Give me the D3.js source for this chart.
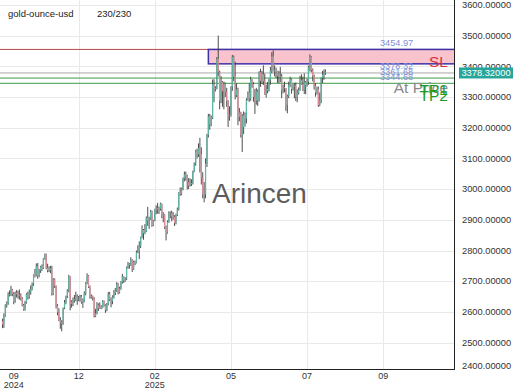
<!DOCTYPE html>
<html>
<head>
<meta charset="utf-8">
<script src="https://cdn.jsdelivr.net/npm/d3@7"></script>
<style>
  body { margin: 0; background: #fff; }
  svg { display: block; font-family: Arial, "Liberation Sans", sans-serif; }
</style>
</head>
<body>
<div id="chart"></div>
<script>
// daily closes, gold-ounce-usd, 230 bars (Sep 2024 .. Aug 2025)
const closes = [
  2559, 2587, 2622, 2628, 2657, 2657, 2672, 2658, 2634, 2662,
  2658, 2656, 2653, 2644, 2622, 2608, 2631, 2657, 2649, 2663,
  2674, 2692, 2721, 2720, 2749, 2717, 2735, 2747, 2743, 2773,
  2788, 2744, 2736, 2736, 2742, 2659, 2706, 2684, 2619, 2598,
  2573, 2566, 2562, 2613, 2631, 2651, 2670, 2715, 2626, 2633,
  2637, 2641, 2650, 2640, 2643, 2650, 2632, 2633, 2660, 2694,
  2718, 2681, 2648, 2652, 2646, 2586, 2595, 2622, 2612, 2617,
  2613, 2634, 2621, 2606, 2624, 2658, 2640, 2635, 2649, 2662,
  2670, 2690, 2663, 2677, 2697, 2715, 2703, 2708, 2745, 2755,
  2754, 2770, 2740, 2763, 2760, 2794, 2798, 2815, 2843, 2867,
  2856, 2861, 2907, 2898, 2904, 2928, 2883, 2898, 2935, 2933,
  2939, 2936, 2952, 2914, 2916, 2875, 2858, 2893, 2918, 2920,
  2911, 2910, 2889, 2916, 2934, 2988, 2984, 3001, 3034, 3048,
  3044, 3022, 3011, 3020, 3019, 3057, 3085, 3123, 3113, 3134,
  3114, 3037, 2982, 2983, 3083, 3176, 3237, 3211, 3231, 3343,
  3328, 3327, 3424, 3381, 3288, 3349, 3319, 3343, 3317, 3288,
  3239, 3241, 3333, 3431, 3366, 3306, 3325, 3235, 3250, 3177,
  3240, 3202, 3230, 3290, 3314, 3295, 3357, 3342, 3300, 3288,
  3318, 3289, 3381, 3353, 3374, 3352, 3310, 3326, 3322, 3355,
  3386, 3432, 3384, 3388, 3387, 3369, 3368, 3368, 3323, 3332,
  3328, 3274, 3303, 3338, 3357, 3326, 3337, 3336, 3301, 3313,
  3324, 3355, 3343, 3324, 3348, 3338, 3350, 3397, 3431, 3388,
  3368, 3337, 3314, 3326, 3274, 3289, 3363, 3373, 3380, 3378.32
];
const highs = [
  2578, 2595, 2625, 2634, 2664, 2670, 2685, 2675, 2665, 2666,
  2671, 2669, 2673, 2660, 2648, 2626, 2636, 2661, 2666, 2673,
  2686, 2696, 2722, 2740, 2758, 2759, 2740, 2750, 2755, 2775,
  2790, 2790, 2757, 2748, 2750, 2750, 2710, 2709, 2686, 2625,
  2612, 2583, 2573, 2614, 2639, 2653, 2674, 2721, 2716, 2638,
  2647, 2655, 2666, 2657, 2652, 2656, 2655, 2644, 2667, 2697,
  2726, 2720, 2686, 2657, 2653, 2648, 2610, 2632, 2628, 2631,
  2622, 2638, 2637, 2625, 2629, 2665, 2665, 2647, 2654, 2671,
  2678, 2697, 2694, 2682, 2700, 2724, 2716, 2713, 2748, 2763,
  2759, 2778, 2772, 2767, 2767, 2800, 2817, 2830, 2845, 2882,
  2870, 2886, 2911, 2942, 2910, 2932, 2930, 2900, 2936, 2947,
  2955, 2943, 2956, 2953, 2925, 2918, 2881, 2898, 2928, 2927,
  2930, 2925, 2915, 2920, 2940, 2990, 3005, 3005, 3038, 3057,
  3057, 3047, 3036, 3035, 3032, 3060, 3087, 3128, 3132, 3149,
  3167, 3136, 3055, 3023, 3100, 3180, 3245, 3245, 3240, 3357,
  3358, 3335, 3430, 3500, 3386, 3368, 3352, 3350, 3347, 3330,
  3290, 3270, 3335, 3437, 3435, 3415, 3345, 3330, 3264, 3252,
  3245, 3253, 3250, 3296, 3318, 3345, 3366, 3358, 3348, 3326,
  3330, 3325, 3384, 3392, 3385, 3403, 3376, 3340, 3349, 3360,
  3398, 3446, 3452, 3403, 3396, 3376, 3385, 3398, 3375, 3340,
  3350, 3329, 3308, 3350, 3366, 3360, 3342, 3345, 3347, 3325,
  3331, 3369, 3374, 3366, 3377, 3352, 3360, 3402, 3439, 3433,
  3393, 3373, 3345, 3334, 3334, 3315, 3364, 3385, 3390, 3390
];
const lows = [
  2547, 2548, 2584, 2614, 2623, 2650, 2652, 2651, 2625, 2630,
  2647, 2643, 2640, 2637, 2618, 2604, 2604, 2627, 2640, 2643,
  2656, 2670, 2685, 2712, 2716, 2708, 2713, 2727, 2733, 2740,
  2770, 2739, 2729, 2730, 2726, 2653, 2655, 2678, 2611, 2589,
  2570, 2545, 2537, 2558, 2609, 2625, 2645, 2664, 2605, 2614,
  2619, 2630, 2635, 2623, 2635, 2633, 2627, 2613, 2631, 2654,
  2690, 2678, 2643, 2643, 2637, 2582, 2583, 2592, 2603, 2610,
  2609, 2612, 2617, 2597, 2602, 2621, 2635, 2615, 2625, 2643,
  2655, 2665, 2657, 2660, 2672, 2692, 2694, 2698, 2704, 2740,
  2741, 2750, 2730, 2737, 2752, 2758, 2791, 2772, 2808, 2840,
  2835, 2853, 2860, 2880, 2870, 2900, 2877, 2880, 2895, 2918,
  2920, 2919, 2930, 2905, 2892, 2870, 2833, 2855, 2890, 2905,
  2895, 2900, 2880, 2885, 2912, 2930, 2978, 2980, 2996, 3025,
  3028, 2999, 3000, 3008, 3010, 3015, 3055, 3076, 3100, 3105,
  3054, 3015, 2970, 2957, 2970, 3072, 3168, 3193, 3205, 3228,
  3283, 3318, 3325, 3367, 3260, 3280, 3268, 3260, 3300, 3268,
  3202, 3223, 3236, 3320, 3351, 3292, 3300, 3208, 3221, 3168,
  3121, 3179, 3207, 3214, 3288, 3284, 3288, 3330, 3285, 3245,
  3275, 3271, 3285, 3333, 3343, 3339, 3307, 3298, 3312, 3318,
  3340, 3377, 3383, 3367, 3362, 3346, 3345, 3348, 3296, 3312,
  3315, 3255, 3247, 3296, 3332, 3311, 3321, 3296, 3287, 3283,
  3308, 3320, 3340, 3320, 3310, 3309, 3334, 3340, 3383, 3381,
  3351, 3324, 3301, 3308, 3268, 3270, 3280, 3345, 3356, 3372
];
const firstOpen = 2570;
// each bar opens at the previous bar's close
const opens = [firstOpen, ...closes.slice(0, -1)];

const priceTicks = [2400, 2500, 2600, 2700, 2800, 2900, 3000, 3100, 3200, 3300, 3400, 3500, 3600];
const timeTicks = [8, 54, 108, 162, 216, 270];          // bar index of each tick
const timeLabels = ["09", "12", "02", "05", "07", "09"];
const yearLabels = ["2024", "", "2025", "", "", ""];
const gridTicks = [54, 108, 162, 216, 270];

const lastPrice = 3378.32;
const slPrice = 3454.97;
const zoneLow = 3408;
const zoneStart = 146;
const tp1 = 3361.68;
const tp2 = 3344.68;

const W = 520, H = 390;
const plotW = 454, plotH = 369;

const svg = d3.select("#chart").append("svg").attr("width", W).attr("height", H);

const x = d3.scaleLinear().domain([-1.77, 320.2]).range([0, plotW]);
const y = d3.scaleLinear().domain([2414, 3616]).range([plotH, 0]);

const plot = svg.append("g");
plot.append("defs").append("clipPath").attr("id", "clip")
  .append("rect").attr("width", plotW).attr("height", plotH);

// grid
plot.selectAll(".hg").data(priceTicks.filter(v => y(v) < plotH)).enter().append("line")
  .attr("x1", 0).attr("x2", plotW)
  .attr("y1", d => Math.round(y(d)) + 0.5).attr("y2", d => Math.round(y(d)) + 0.5)
  .attr("stroke", "#e9e9e9");
plot.selectAll(".vg").data(gridTicks).enter().append("line")
  .attr("x1", d => Math.round(x(d)) + 0.5).attr("x2", d => Math.round(x(d)) + 0.5)
  .attr("y1", 0).attr("y2", plotH)
  .attr("stroke", "#e9e9e9");

const g = plot.append("g").attr("clip-path", "url(#clip)");

// levels
g.append("line").attr("x1", 0).attr("x2", plotW)
  .attr("y1", y(slPrice)).attr("y2", y(slPrice))
  .attr("stroke", "#b84a4a").attr("stroke-width", 1);
g.append("rect")
  .attr("x", x(zoneStart)).attr("y", y(slPrice))
  .attr("width", plotW - x(zoneStart) + 2).attr("height", y(zoneLow) - y(slPrice))
  .attr("fill", "#f8c3cd").attr("stroke", "#3b32a8").attr("stroke-width", 1.5);
g.append("line").attr("x1", 0).attr("x2", plotW)
  .attr("y1", y(lastPrice)).attr("y2", y(lastPrice))
  .attr("stroke", "#a8a8a8");
[tp1, tp2].forEach(v => {
  g.append("line").attr("x1", 0).attr("x2", plotW)
    .attr("y1", y(v)).attr("y2", y(v))
    .attr("stroke", "#3f9a45");
});

// candles
const bars = d3.range(closes.length).map(i => ({
  i, o: opens[i], h: highs[i], l: lows[i], c: closes[i]
}));
g.selectAll(".wick").data(bars).enter().append("line")
  .attr("x1", d => x(d.i)).attr("x2", d => x(d.i))
  .attr("y1", d => y(d.h)).attr("y2", d => y(d.l))
  .attr("stroke", "#3a3a3a").attr("stroke-width", 0.9);
g.selectAll(".body").data(bars).enter().append("rect")
  .attr("x", d => x(d.i) - 0.6)
  .attr("width", 1.2)
  .attr("y", d => y(Math.max(d.o, d.c)))
  .attr("height", d => Math.max(0.8, Math.abs(y(d.o) - y(d.c))))
  .attr("fill", d => d.c >= d.o ? "#5fb5a6" : "#e0909c");

// watermark
svg.append("text").attr("x", 212).attr("y", 203)
  .attr("font-size", 28).attr("fill", "#5c5c5c").text("Arincen");

// level texts
const numLabel = (v, txt) => svg.append("text")
  .attr("x", 380).attr("y", y(v) - 3.5)
  .attr("font-size", 9.2).attr("fill", "#7f8fd8").text(txt);
numLabel(slPrice, "3454.97");
numLabel(lastPrice, "3378.32");
numLabel(tp1, "3361.68");
numLabel(tp2, "3344.68");

const bigLabel = (v, txt, color, dy) => svg.append("text")
  .attr("x", 448).attr("y", y(v) + dy).attr("text-anchor", "end")
  .attr("font-size", 15.5).attr("fill", color).text(txt);
bigLabel(slPrice, "SL", "#e0303c", 17.5);
bigLabel(lastPrice, "At Price", "#8a8a8a", 20);
bigLabel(tp1, "TP1", "#229a22", 16.5);
bigLabel(tp2, "TP2", "#229a22", 17.8);

// frame
svg.append("line").attr("x1", plotW + 0.5).attr("x2", plotW + 0.5)
  .attr("y1", 0).attr("y2", plotH + 1).attr("stroke", "#222");
svg.append("line").attr("x1", 0).attr("x2", plotW + 1)
  .attr("y1", plotH + 0.5).attr("y2", plotH + 0.5).attr("stroke", "#222");

// price axis
svg.selectAll(".yl").data(priceTicks).enter().append("text")
  .attr("x", 462).attr("y", d => Math.min(y(d), 366))
  .attr("dy", "0.35em")
  .attr("font-size", 9.3).attr("fill", "#333")
  .text(d => d3.format(".5f")(d));

svg.append("rect").attr("x", 459).attr("y", y(lastPrice) - 5.5)
  .attr("width", 54).attr("height", 11).attr("fill", "#26a69a");
svg.append("text").attr("x", 486).attr("y", y(lastPrice)).attr("dy", "0.35em")
  .attr("text-anchor", "middle").attr("font-size", 9.3).attr("fill", "#fff")
  .text(d3.format(".5f")(lastPrice));

// time axis
svg.selectAll(".xl").data(timeTicks).enter().append("text")
  .attr("x", d => x(d)).attr("y", 378.5).attr("text-anchor", "middle")
  .attr("font-size", 9).attr("fill", "#333")
  .text((d, i) => timeLabels[i]);
svg.selectAll(".xy").data(timeTicks).enter().append("text")
  .attr("x", d => x(d)).attr("y", 387.5).attr("text-anchor", "middle")
  .attr("font-size", 9).attr("fill", "#333")
  .text((d, i) => yearLabels[i]);

// title
svg.append("text").attr("x", 8).attr("y", 16.5)
  .attr("font-size", 9.5).attr("fill", "#222").text("gold-ounce-usd");
svg.append("text").attr("x", 97).attr("y", 16.5)
  .attr("font-size", 9.5).attr("fill", "#222").text("230/230");
</script>
</body>
</html>
